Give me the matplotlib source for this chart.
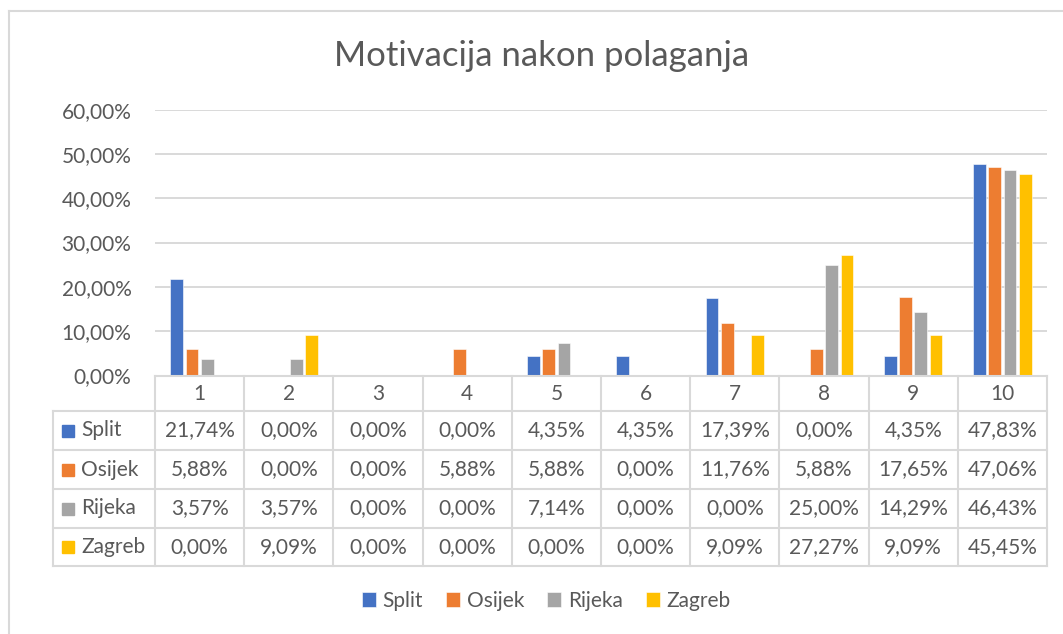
import matplotlib
matplotlib.use("Agg")
import matplotlib.pyplot as plt
from matplotlib.patches import Rectangle
from matplotlib.lines import Line2D
import numpy as np

categories = ["1", "2", "3", "4", "5", "6", "7", "8", "9", "10"]
series_names = ["Split", "Osijek", "Rijeka", "Zagreb"]
split = [21.74, 0.00, 0.00, 0.00, 4.35, 4.35, 17.39, 0.00, 4.35, 47.83]
osijek = [5.88, 0.00, 0.00, 5.88, 5.88, 0.00, 11.76, 5.88, 17.65, 47.06]
rijeka = [3.57, 3.57, 0.00, 0.00, 7.14, 0.00, 0.00, 25.00, 14.29, 46.43]
zagreb = [0.00, 9.09, 0.00, 0.00, 0.00, 0.00, 9.09, 27.27, 9.09, 45.45]
yticks = [0, 10, 20, 30, 40, 50, 60]
title = "Motivacija nakon polaganja"

colors = ["#4472C4", "#ED7D31", "#A5A5A5", "#FFC000"]
series = [split, osijek, rijeka, zagreb]
txt = "#595959"
grid = "#D9D9D9"
FONT = ["Lato", "DejaVu Sans"]
plt.rcParams["font.family"] = FONT
FS = 15

W, H = 1063, 634
fig = plt.figure(figsize=(W / 100, H / 100), dpi=100)

def fx(px):
    return px / W

def fy(py):
    return 1 - py / H

# outer chart border (left and top edges visible)
fig.add_artist(Line2D([fx(9), fx(9)], [fy(11), 0], transform=fig.transFigure, color=grid, lw=1.5))
fig.add_artist(Line2D([fx(9), 1], [fy(11), fy(11)], transform=fig.transFigure, color=grid, lw=1.5))

fig.text(fx(542), fy(56), title, ha="center", va="center", fontsize=25, color=txt)

# bar axes
L, R, T, B = 155, 1047, 110, 375
ax = fig.add_axes([fx(L), fy(B), fx(R) - fx(L), fy(T) - fy(B)])
x = np.arange(1, len(categories) + 1)
slot = 0.171
bw = 0.142
handles = []
for i, (vals, c) in enumerate(zip(series, colors)):
    h = ax.bar(x + (i - 1.5) * slot, vals, width=bw, color=c, zorder=3,
               edgecolor="white", linewidth=0.4)
    handles.append(h)
ax.set_xlim(0.5, len(categories) + 0.5)
ax.set_ylim(0, 60)
ax.set_yticks(yticks)
ax.set_yticklabels([f"{v:.2f}".replace(".", ",") + "%" for v in yticks], color=txt, fontsize=FS)
ax.tick_params(axis="y", length=0, pad=17)
ax.set_xticks([])
for s in ax.spines.values():
    s.set_visible(False)
for v in yticks[1:]:
    ax.axhline(v, color=grid, lw=1.4, zorder=1)

# data table
TL, TT, TB = 53, 376, 566
ta = fig.add_axes([fx(TL), fy(TB), fx(R) - fx(TL), fy(TT) - fy(TB)])
unit = (R - L) / len(categories)
left = 0.5 - (L - TL) / unit
ta.set_xlim(left, len(categories) + 0.5)
rows_y = [0, 35, 74, 113, 152, 190]
ta.set_ylim(190, 0)
ta.axis("off")
lc = "#D9D9D9"
lw = 1.5
ta.plot([0.5, len(categories) + 0.5], [0, 0], color=lc, lw=lw, clip_on=False)
for yv in rows_y[1:]:
    ta.plot([left, len(categories) + 0.5], [yv, yv], color=lc, lw=lw, clip_on=False)
for k in range(len(categories) + 1):
    ta.plot([0.5 + k, 0.5 + k], [0, 190], color=lc, lw=lw, clip_on=False)
ta.plot([left, left], [35, 190], color=lc, lw=lw, clip_on=False)
for k, cat in enumerate(categories):
    ta.text(k + 1, 18, cat, ha="center", va="center", fontsize=FS, color=txt)
for r, (name, vals, c) in enumerate(zip(series_names, series, colors)):
    yc = (rows_y[r + 1] + rows_y[r + 2]) / 2
    ta.add_patch(Rectangle((left + 9 / unit, yc - 6), 12 / unit, 12, color=c, clip_on=False))
    ta.text(left + 28 / unit, yc, name, ha="left", va="center", fontsize=FS, color=txt)
    for k, v in enumerate(vals):
        ta.text(k + 1, yc, f"{v:.2f}".replace(".", ",") + "%", ha="center", va="center",
                fontsize=FS, color=txt)

leg = fig.legend(handles, series_names, loc="center", bbox_to_anchor=(fx(546), fy(601)),
                 ncol=4, frameon=False, fontsize=FS, handlelength=0.7, handleheight=0.7,
                 handletextpad=0.3, columnspacing=1.1, labelcolor=txt)

fig.savefig("out.png", dpi=100)
